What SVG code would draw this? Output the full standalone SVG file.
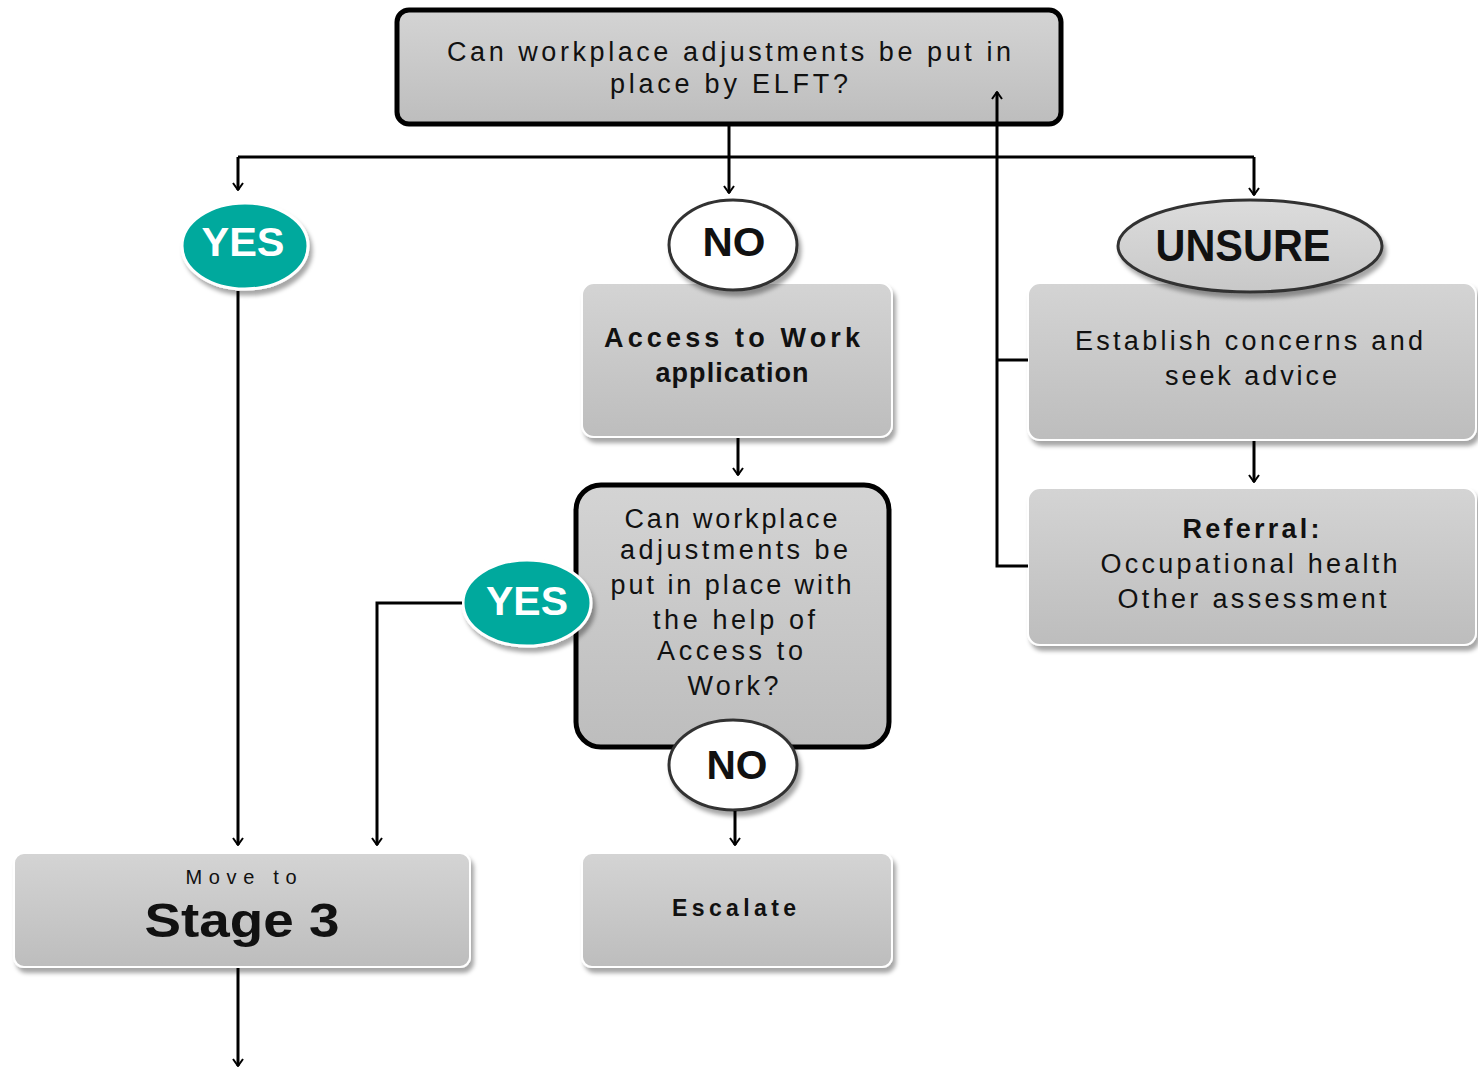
<svg xmlns="http://www.w3.org/2000/svg" width="1478" height="1068" viewBox="0 0 1478 1068">
<defs>
<linearGradient id="g" x1="0" y1="0" x2="0" y2="1"><stop offset="0" stop-color="#d4d4d4"/><stop offset="1" stop-color="#bdbdbd"/></linearGradient>
<linearGradient id="g2" x1="0" y1="0" x2="0" y2="1"><stop offset="0" stop-color="#dcdcdc"/><stop offset="1" stop-color="#c8c8c8"/></linearGradient>
<filter id="sh" x="-10%" y="-10%" width="125%" height="130%"><feDropShadow dx="3" dy="5" stdDeviation="2" flood-color="#000" flood-opacity="0.35"/></filter>
<marker id="ar" markerUnits="userSpaceOnUse" viewBox="0 0 12 12" refX="11" refY="6" markerWidth="12" markerHeight="12" orient="auto"><path d="M4,1 L11,6 L4,11" fill="none" stroke="#000" stroke-width="2"/></marker>
</defs>
<style>
text{font-family:"Liberation Sans",Arial,sans-serif;fill:#111;text-anchor:middle}
.t{font-size:27px}
.b{font-size:27px;font-weight:bold}
.box{fill:url(#g);stroke:#fff;stroke-width:2;filter:url(#sh)}
.dec{fill:url(#g);stroke:#000;stroke-width:5}
.c line,.c polyline{stroke:#000;stroke-width:3;fill:none}
.big{font-size:40px;font-weight:bold}
</style>
<g id="n-top">
<rect class="dec" x="397" y="10" width="664" height="114" rx="12"/>
<text class="t" x="729" y="61" textLength="564" lengthAdjust="spacing">Can workplace  adjustments  be put  in</text>
<text class="t" x="729" y="93" textLength="238" lengthAdjust="spacing">place by  ELFT?</text>
</g>
<g id="n-yes1">
<ellipse cx="245" cy="246" rx="63" ry="43" fill="#00a99d" stroke="#fff" stroke-width="3" filter="url(#sh)"/>
<text class="big" x="243" y="256" style="fill:#fff" textLength="83" lengthAdjust="spacingAndGlyphs">YES</text>
</g>
<g id="n-access">
<rect class="box" x="582" y="283" width="310" height="154" rx="12"/>
<text class="b" x="732" y="347" textLength="256" lengthAdjust="spacing">Access  to Work</text>
<text class="b" x="732" y="382" textLength="153" lengthAdjust="spacing">application</text>
</g>
<g id="n-no1">
<ellipse cx="733" cy="245" rx="64" ry="45" fill="#fff" stroke="#333" stroke-width="3" filter="url(#sh)"/>
<text class="big" x="734" y="256" textLength="63" lengthAdjust="spacingAndGlyphs">NO</text>
</g>
<g id="n-establish">
<rect class="box" x="1028" y="283" width="448" height="157" rx="12"/>
<text class="t" x="1249" y="350" textLength="348" lengthAdjust="spacing">Establish  concerns  and</text>
<text class="t" x="1251" y="385" textLength="172" lengthAdjust="spacing">seek  advice</text>
</g>
<g id="n-unsure">
<ellipse cx="1250" cy="246" rx="132" ry="46" fill="url(#g2)" stroke="#333" stroke-width="3" filter="url(#sh)"/>
<text class="big" x="1243" y="261" style="font-size:44px" textLength="175" lengthAdjust="spacingAndGlyphs">UNSURE</text>
</g>
<g id="n-referral">
<rect class="box" x="1028" y="488" width="448" height="157" rx="12"/>
<text class="b" x="1251" y="538" textLength="137" lengthAdjust="spacing">Referral:</text>
<text class="t" x="1249" y="573" textLength="297" lengthAdjust="spacing">Occupational  health</text>
<text class="t" x="1252" y="608" textLength="269" lengthAdjust="spacing">Other  assessment</text>
</g>
<g id="n-dec2">
<rect class="dec" x="576" y="485" width="313" height="262" rx="25"/>
<text class="t" x="731" y="528" textLength="213" lengthAdjust="spacing">Can  workplace</text>
<text class="t" x="734" y="559" textLength="228" lengthAdjust="spacing">adjustments  be</text>
<text class="t" x="731" y="594" textLength="241" lengthAdjust="spacing">put in place with</text>
<text class="t" x="734" y="629" textLength="162" lengthAdjust="spacing">the  help  of</text>
<text class="t" x="730" y="660" textLength="146" lengthAdjust="spacing">Access  to</text>
<text class="t" x="733" y="695" textLength="91" lengthAdjust="spacing">Work?</text>
</g>
<g id="n-yes2">
<ellipse cx="527" cy="603" rx="64" ry="43" fill="#00a99d" stroke="#fff" stroke-width="3" filter="url(#sh)"/>
<text class="big" x="527" y="615" style="fill:#fff" textLength="82" lengthAdjust="spacingAndGlyphs">YES</text>
</g>
<g id="n-no2">
<ellipse cx="733" cy="765" rx="64" ry="45" fill="#fff" stroke="#333" stroke-width="3" filter="url(#sh)"/>
<text class="big" x="737" y="779" textLength="61" lengthAdjust="spacingAndGlyphs">NO</text>
</g>
<g id="n-stage3">
<rect class="box" x="14" y="853" width="456" height="114" rx="10"/>
<text x="241" y="884" style="font-size:20px" textLength="111" lengthAdjust="spacing">Move  to</text>
<text x="242" y="937" style="font-size:48px;font-weight:bold" textLength="195" lengthAdjust="spacingAndGlyphs">Stage 3</text>
</g>
<g id="n-escalate">
<rect class="box" x="582" y="853" width="310" height="114" rx="10"/>
<text x="734" y="916" style="font-size:23px;font-weight:bold" textLength="124" lengthAdjust="spacing">Escalate</text>
</g>
<g class="c" id="connectors">
<line x1="238" y1="157" x2="1254" y2="157"/>
<line x1="729" y1="126" x2="729" y2="193" marker-end="url(#ar)"/>
<line x1="238" y1="157" x2="238" y2="190" marker-end="url(#ar)"/>
<line x1="1254" y1="157" x2="1254" y2="195" marker-end="url(#ar)"/>
<line x1="238" y1="291" x2="238" y2="845" marker-end="url(#ar)"/>
<line x1="738" y1="438" x2="738" y2="475" marker-end="url(#ar)"/>
<polyline points="462,603 377,603 377,845" marker-end="url(#ar)"/>
<line x1="735" y1="811" x2="735" y2="845" marker-end="url(#ar)"/>
<line x1="1254" y1="441" x2="1254" y2="482" marker-end="url(#ar)"/>
<line x1="1028" y1="360" x2="997" y2="360"/>
<polyline points="1028,566 997,566 997,92" marker-end="url(#ar)"/>
<line x1="238" y1="968" x2="238" y2="1066" marker-end="url(#ar)"/>
</g>
</svg>
